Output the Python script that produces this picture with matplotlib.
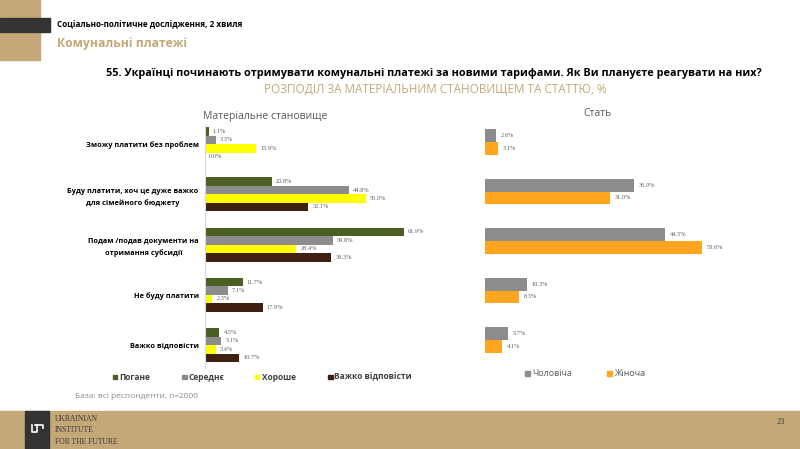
import matplotlib
matplotlib.use("Agg")
import matplotlib.pyplot as plt
import matplotlib.patches as mpatches
import numpy as np

# ── Data ──────────────────────────────────────────────────────────────────────
categories = [
    "Зможу платити без проблем",
    "Буду платити, хоч це дуже важко\nдля сімейного бюджету",
    "Подам /подав документи на\nотримання субсидії",
    "Не буду платити",
    "Важко відповісти",
]
wealth_groups = ["Погане", "Середнє", "Хороше", "Важко відповісти"]
poor = [1.1, 20.8, 61.9, 11.7, 4.5]
medium = [3.3, 44.8, 39.8, 7.1, 5.1]
good = [15.9, 50.0, 28.4, 2.3, 3.4]
hard_to_say = [0.0, 32.1, 39.3, 17.9, 10.7]

sex_groups = ["Чоловіча", "Жіноча"]
male = [2.6, 36.9, 44.5, 10.3, 5.7]
female = [3.1, 31.0, 53.6, 8.3, 4.1]

TAN = "#c4a878"
DARK = "#333333"
W_COLORS = ["#4b5e24", "#8c8c8c", "#ffff00", "#3f1f0f"]
S_COLORS = ["#8c8c8c", "#ffa51f"]
SANS = ["Open Sans", "DejaVu Sans"]
SERIF = ["Liberation Serif", "DejaVu Serif"]

W, H = 800, 449
fig = plt.figure(figsize=(W / 100, H / 100), dpi=100)


def fx(x):
    return x / W


def fy(y):
    return 1 - y / H


def rect(x0, y0, x1, y1, color):
    fig.patches.append(mpatches.Rectangle((fx(x0), fy(y1)), fx(x1 - x0), (y1 - y0) / H,
                                          transform=fig.transFigure, color=color, zorder=0))


# ── Header ───────────────────────────────────────────────────────────────────
rect(0, 0, 40, 60, TAN)
rect(0, 18, 50, 32, DARK)
fig.text(fx(57), fy(25), "Соціально-політичне дослідження, 2 хвиля", fontsize=5.9,
         fontweight="bold", family=SANS, va="center")
fig.text(fx(57), fy(43), "Комунальні платежі", fontsize=8.7, fontweight="bold",
         color=TAN, family=SANS, va="center")
fig.text(fx(434), fy(73), "55. Українці починають отримувати комунальні платежі за новими тарифами. "
         "Як Ви плануєте реагувати на них?", fontsize=7.85, fontweight="bold",
         family=SANS, ha="center", va="center")
fig.text(fx(435), fy(89), "РОЗПОДІЛ ЗА МАТЕРІАЛЬНИМ СТАНОВИЩЕМ ТА СТАТТЮ, %", fontsize=8.5,
         color=TAN, family=SANS, ha="center", va="center")

# ── Footer ───────────────────────────────────────────────────────────────────
rect(0, 411, 800, 449, TAN)
rect(25, 411, 49, 449, DARK)
# simple logo
fig.add_artist(plt.Line2D([fx(32), fx(32), fx(37), fx(37)], [fy(425), fy(432), fy(432), fy(425)],
                          transform=fig.transFigure, color="white", lw=1.2))
fig.add_artist(plt.Line2D([fx(35), fx(43), fx(43)], [fy(425), fy(425), fy(428)],
                          transform=fig.transFigure, color="white", lw=1.2))
for i, line in enumerate(["UKRAINIAN", "INSTITUTE", "FOR THE FUTURE"]):
    fig.text(fx(55), fy(419 + i * 11.5), line, fontsize=5.5, family=SERIF,
             color="#3a3a3a", va="center")
fig.text(fx(785), fy(422), "23", fontsize=6, family=SERIF, color="#3a3a3a",
         ha="right", va="center")

fig.text(fx(75), fy(397), "База: всі респонденти, n=2000", fontsize=6, family=SANS,
         color="#8c8c8c", va="center")

# ── Left chart: wealth ───────────────────────────────────────────────────────
ax1_l, ax1_t, ax1_b = 205, 125, 368
px_per = 3.215
xmax1 = 70
ax1 = fig.add_axes([fx(ax1_l), fy(ax1_b), fx(xmax1 * px_per), (ax1_b - ax1_t) / H])
step1 = 50.25
c0 = 144
ax1.set_ylim((ax1_b - c0) / step1, -(c0 - ax1_t) / step1)
ax1.set_xlim(0, xmax1)
bh1 = 8.5 / step1
y = np.arange(len(categories))
for k, (vals, col) in enumerate(zip([poor, medium, good, hard_to_say], W_COLORS)):
    yy = y + (k - 1.5) * bh1
    ax1.barh(yy, vals, height=bh1, color=col, label=wealth_groups[k])
    for yi, v in zip(yy, vals):
        ax1.text(v + 1.3, yi, f"{v:.1f}%", fontsize=4.6, family=SERIF,
                 color="#606060", va="center", ha="left")
ax1.set_yticks(y)
ax1.set_yticklabels(categories, fontsize=5.3, fontweight="bold", family=SANS,
                    linespacing=1.75, ha="right", multialignment="center")
ax1.tick_params(axis="y", length=0, pad=4.5)
ax1.set_xticks([])
for s in ["top", "right", "bottom"]:
    ax1.spines[s].set_visible(False)
ax1.spines["left"].set_color("#d9d9d9")
ax1.spines["left"].set_linewidth(0.8)
ax1.patch.set_alpha(0)
fig.text(fx(265), fy(117), "Матеріальне становище", fontsize=7.5, family=SANS,
         color="#595959", ha="center", va="center")

# left legend
leg_x = [113, 182, 255, 328]
for lx, col, name in zip(leg_x, W_COLORS, wealth_groups):
    rect(lx, 374.5, lx + 4.5, 379, col)
    fig.text(fx(lx + 6.5), fy(377), name, fontsize=6, fontweight="bold", family=SANS,
             color="#404040", va="center")

# ── Right chart: sex ─────────────────────────────────────────────────────────
ax2_l, ax2_t, ax2_b = 485, 125, 362
px_per2 = 4.04
xmax2 = 60
ax2 = fig.add_axes([fx(ax2_l), fy(ax2_b), fx(xmax2 * px_per2), (ax2_b - ax2_t) / H])
step2 = 49.5
c2 = 142
ax2.set_ylim((ax2_b - c2) / step2, -(c2 - ax2_t) / step2)
ax2.set_xlim(0, xmax2)
bh2 = 12.7 / step2
for k, (vals, col) in enumerate(zip([male, female], S_COLORS)):
    yy = y + (k - 0.5) * bh2
    ax2.barh(yy, vals, height=bh2, color=col, label=sex_groups[k])
    for yi, v in zip(yy, vals):
        ax2.text(v + 1.2, yi, f"{v:.1f}%", fontsize=4.6, family=SERIF,
                 color="#606060", va="center", ha="left")
ax2.set_xticks([])
ax2.set_yticks([])
for s in ax2.spines.values():
    s.set_visible(False)
ax2.patch.set_alpha(0)
fig.text(fx(598), fy(113), "Стать", fontsize=7.5, family=SANS, color="#595959",
         ha="center", va="center")

for lx, col, name in zip([525, 607], S_COLORS, sex_groups):
    rect(lx, 370.5, lx + 5, 375.5, col)
    fig.text(fx(lx + 7.5), fy(373), name, fontsize=6.5, family=SANS,
             color="#595959", va="center")

plt.savefig("out.png", dpi=100)
